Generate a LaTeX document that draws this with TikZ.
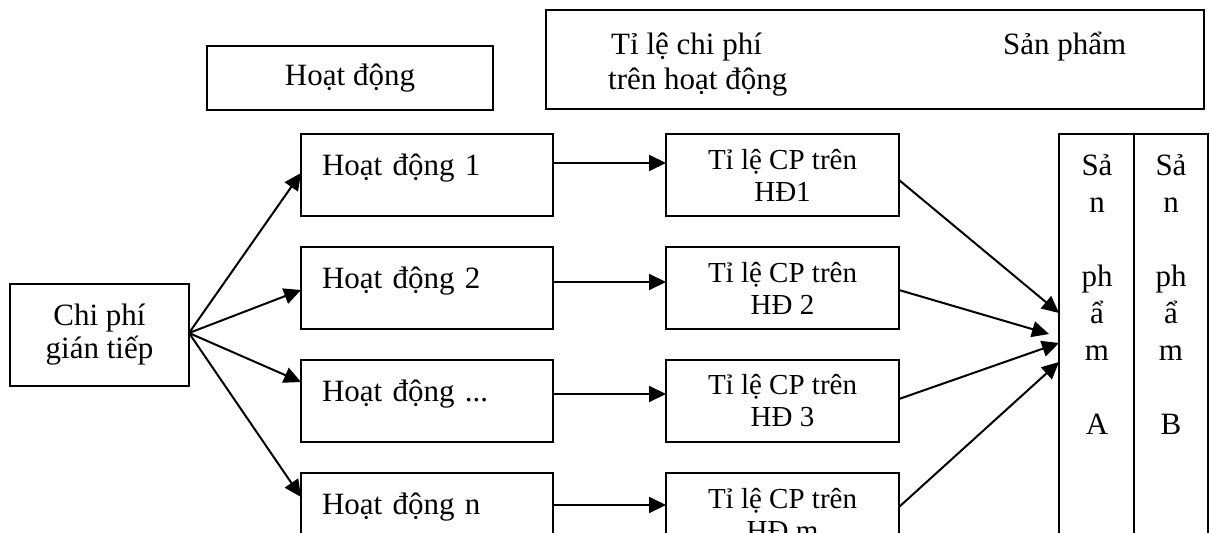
\documentclass[tikz,border=0pt]{standalone}
\usepackage{fontspec}
\setmainfont{Liberation Serif}
\usetikzlibrary{arrows.meta}
\begin{document}
\begin{tikzpicture}[x=1pt,y=-1pt,
  box/.style={draw,line width=2.1pt,inner sep=0pt,outer sep=0pt,anchor=north west},
  bigtxt/.style={font=\fontsize{31}{35}\selectfont},
  smalltxt/.style={font=\fontsize{29}{32}\selectfont},
  actbox/.style={box,bigtxt,text width=210pt,inner xsep=21pt,align=left,
    minimum height=82pt,text height=22pt,text depth=22pt},
  ratebox/.style={box,smalltxt,minimum width=233pt,minimum height=82pt,align=center},
  prodbox/.style={box,minimum height=430pt},
  arr/.style={line width=2pt,-{Triangle[length=17pt,width=16pt]}},
]
\useasboundingbox (0,0) rectangle (1211,533);
\clip (0,0) rectangle (1211,533);

% header boxes
\node[box,bigtxt,minimum width=286pt,minimum height=64pt] (hdact) at (207,46) {Hoạt động};
\node[box,minimum width=658pt,minimum height=99pt] (hdr) at (546,10) {};
\node[bigtxt,anchor=base west,inner sep=0pt] (hdrA1) at (611,54) {Tỉ lệ chi phí};
\node[bigtxt,anchor=base west,inner sep=0pt] (hdrA2) at (608,89) {trên hoạt động};
\node[bigtxt,anchor=base west,inner sep=0pt] (hdrB) at (1003,54) {Sản phẩm};

% source of indirect cost
\node[box,bigtxt,minimum width=179pt,minimum height=102pt,align=center] (cp) at (10,284)
  {Chi phí\\[-2pt]gián tiếp};

% activities
\node[actbox] (hd1) at (301,134) {Hoạt động 1};
\node[actbox] (hd2) at (301,247) {Hoạt động 2};
\node[actbox] (hd3) at (301,360) {Hoạt động ...};
\node[actbox] (hdn) at (301,473) {Hoạt động n};

% cost rates per activity
\node[ratebox] (tl1) at (666,134) {Tỉ lệ CP trên\\HĐ1};
\node[ratebox] (tl2) at (666,247) {Tỉ lệ CP trên\\HĐ 2};
\node[ratebox] (tl3) at (666,360) {Tỉ lệ CP trên\\HĐ 3};
\node[ratebox] (tln) at (666,473) {Tỉ lệ CP trên\\HĐ m};

% products
\node[prodbox,minimum width=75pt] (prodA) at (1059,134) {};
\node[prodbox,minimum width=74pt] (prodB) at (1134,134) {};
\foreach \t [count=\i] in {Sả,n,,ph,ẩ,m,,A} {
  \node[bigtxt,anchor=base,inner sep=0pt] (pa\i) at (1097,138+37*\i) {\t};
}
\foreach \t [count=\i] in {Sả,n,,ph,ẩ,m,,B} {
  \node[bigtxt,anchor=base,inner sep=0pt] (pb\i) at (1171,138+37*\i) {\t};
}

% cost -> activities
\draw[arr] ([yshift=2pt]cp.east) -- ([yshift=-39pt]hd1.north west);
\draw[arr] ([yshift=2pt]cp.east) -- ([yshift=-43pt]hd2.north west);
\draw[arr] ([yshift=2pt]cp.east) -- ([yshift=-22pt]hd3.north west);
\draw[arr] ([yshift=2pt]cp.east) -- ([yshift=-24pt]hdn.north west);

% activities -> rates
\draw[arr] ([yshift=-29pt]hd1.north east) -- ([yshift=-29pt]tl1.north west);
\draw[arr] ([yshift=-35pt]hd2.north east) -- ([yshift=-35pt]tl2.north west);
\draw[arr] ([yshift=-34pt]hd3.north east) -- ([yshift=-34pt]tl3.north west);
\draw[arr] ([yshift=-32pt]hdn.north east) -- ([yshift=-32pt]tln.north west);

% rates -> product
\draw[arr] ([yshift=-46pt]tl1.north east) -- ([yshift=-179pt]prodA.north west);
\draw[arr] ([yshift=-43pt]tl2.north east) -- ([xshift=-10pt,yshift=-200pt]prodA.north west);
\draw[arr] ([yshift=-39pt]tl3.north east) -- ([yshift=-209pt]prodA.north west);
\draw[arr] ([yshift=-34pt]tln.north east) -- ([yshift=-228pt]prodA.north west);
\end{tikzpicture}
\end{document}
